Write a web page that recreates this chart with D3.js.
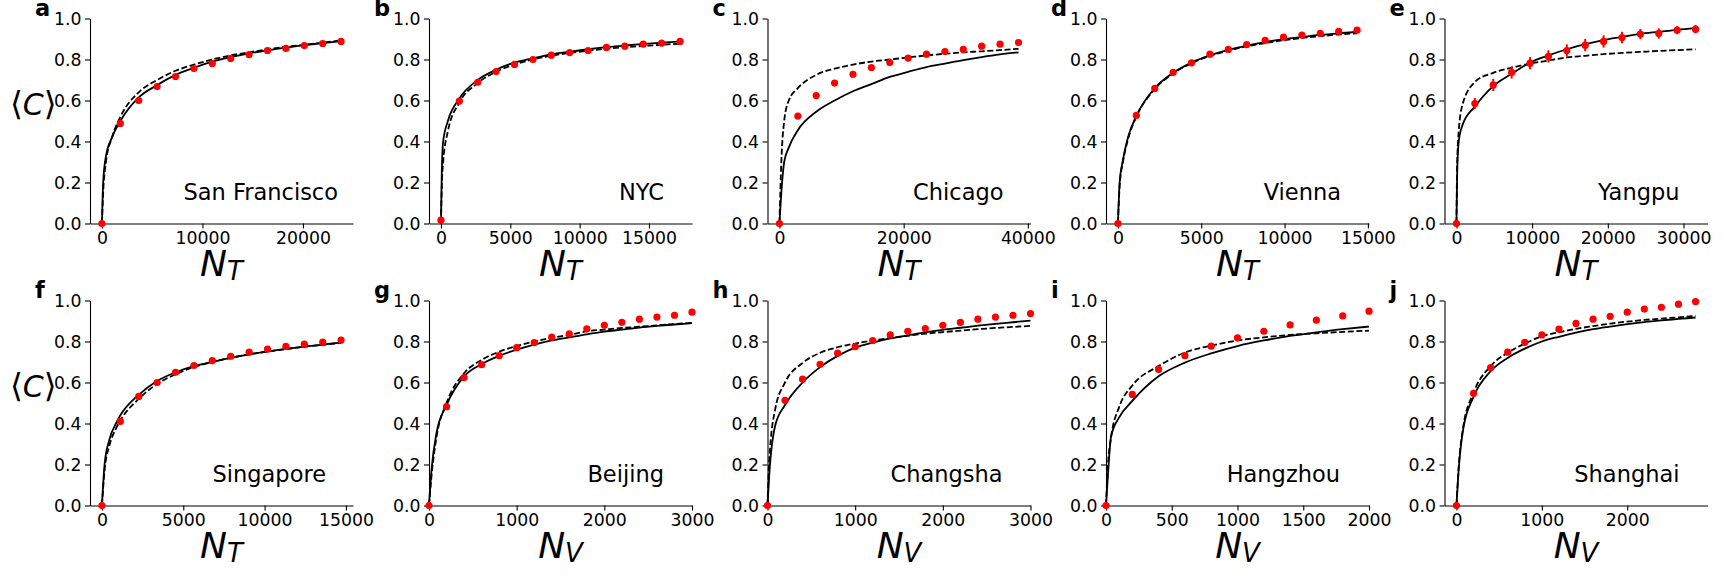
<!DOCTYPE html>
<html>
<head>
<meta charset="utf-8">
<script src="https://cdn.jsdelivr.net/npm/d3@7"></script>
<style>
  body { margin: 0; background: #fff; }
  svg { display: block; font-family: "DejaVu Sans", sans-serif; }
</style>
</head>
<body>
<div id="chart"></div>
<script>
// ---- data ----
const cities = ["San Francisco", "NYC", "Chicago", "Vienna", "Yangpu",
                "Singapore", "Beijing", "Changsha", "Hangzhou", "Shanghai"];
const letters = ["a", "b", "c", "d", "e", "f", "g", "h", "i", "j"];
const xSubscripts = ["T", "T", "T", "T", "T", "T", "V", "V", "V", "V"];
const yTicks = [0, 0.2, 0.4, 0.6, 0.8, 1.0];

// a - San Francisco
const sfPointX = [0, 1830, 3660, 5490, 7320, 9150, 10980, 12810, 14640, 16470, 18300, 20130, 21960, 23790];
const sfPointC = [0, 0.488, 0.600, 0.668, 0.717, 0.756, 0.780, 0.805, 0.824, 0.844, 0.854, 0.868, 0.878, 0.888];
const sfCurveX = [0, 120, 400, 1000, 1830, 3660, 5490, 7320, 9150, 10980, 12810, 14640, 16470, 18300, 20130, 21960, 23790];
const sfSolid  = [0, 0.20, 0.33, 0.42, 0.50, 0.615, 0.675, 0.725, 0.76, 0.79, 0.812, 0.83, 0.845, 0.858, 0.870, 0.880, 0.89];
const sfDashed = [0, 0.15, 0.30, 0.42, 0.52, 0.64, 0.70, 0.745, 0.775, 0.80, 0.82, 0.835, 0.85, 0.862, 0.872, 0.882, 0.893];

// b - NYC
const nycPointX = [0, 1326, 2652, 3978, 5304, 6630, 7956, 9282, 10608, 11934, 13260, 14586, 15912, 17240];
const nycPointC = [0.016, 0.597, 0.689, 0.741, 0.776, 0.800, 0.821, 0.834, 0.844, 0.859, 0.865, 0.875, 0.880, 0.888];
const nycCurveX = [0, 60, 160, 500, 1326, 2652, 3978, 5304, 6630, 7956, 9282, 10608, 11934, 13260, 14586, 15912, 17240];
const nycSolid  = [0, 0.25, 0.40, 0.50, 0.61, 0.70, 0.75, 0.785, 0.806, 0.825, 0.838, 0.85, 0.86, 0.868, 0.876, 0.882, 0.888];
const nycDashed = [0, 0.18, 0.30, 0.45, 0.59, 0.685, 0.74, 0.775, 0.80, 0.818, 0.832, 0.843, 0.853, 0.86, 0.866, 0.872, 0.877];

// c - Chicago
const chiPointX = [0, 2960, 5920, 8880, 11840, 14800, 17760, 20720, 23680, 26640, 29600, 32560, 35520, 38500];
const chiPointC = [0, 0.524, 0.624, 0.685, 0.728, 0.761, 0.785, 0.807, 0.826, 0.839, 0.849, 0.865, 0.875, 0.883];
const chiCurveX = [0, 300, 760, 1500, 2960, 5920, 8880, 11840, 14800, 17760, 20720, 23680, 26640, 29600, 32560, 35520, 38500];
const chiSolid  = [0, 0.15, 0.30, 0.37, 0.455, 0.545, 0.60, 0.645, 0.68, 0.715, 0.74, 0.763, 0.78, 0.797, 0.812, 0.825, 0.835];
const chiDashed = [0, 0.30, 0.50, 0.60, 0.66, 0.725, 0.755, 0.775, 0.79, 0.80, 0.81, 0.82, 0.828, 0.835, 0.84, 0.846, 0.852];

// d - Vienna
const viePointX = [0, 1104, 2208, 3312, 4416, 5520, 6624, 7728, 8832, 9936, 11040, 12144, 13248, 14350];
const viePointC = [0, 0.527, 0.659, 0.737, 0.784, 0.826, 0.849, 0.873, 0.893, 0.909, 0.919, 0.927, 0.937, 0.943];
const vieCurveX = [0, 100, 300, 600, 1104, 2208, 3312, 4416, 5520, 6624, 7728, 8832, 9936, 11040, 12144, 13248, 14350];
const vieSolid  = [0, 0.2, 0.31, 0.42, 0.525, 0.66, 0.735, 0.785, 0.82, 0.847, 0.868, 0.885, 0.899, 0.91, 0.92, 0.928, 0.935];
const vieDashed = [0, 0.18, 0.30, 0.41, 0.52, 0.655, 0.732, 0.782, 0.817, 0.843, 0.864, 0.88, 0.894, 0.905, 0.914, 0.922, 0.928];

// e - Yangpu (with error bars)
const yanPointX = [0, 2430, 4860, 7290, 9720, 12150, 14580, 17010, 19440, 21870, 24300, 26730, 29160, 31590];
const yanPointC = [0, 0.585, 0.676, 0.737, 0.782, 0.815, 0.844, 0.870, 0.888, 0.907, 0.924, 0.927, 0.943, 0.948];
const yanError  = [0, 0.027, 0.03, 0.03, 0.03, 0.03, 0.03, 0.03, 0.03, 0.028, 0.025, 0.025, 0.02, 0.02];
const yanCurveX = [0, 100, 300, 800, 2430, 4860, 7290, 9720, 12150, 14580, 17010, 19440, 21870, 24300, 26730, 29160, 31590];
const yanSolid  = [0, 0.25, 0.40, 0.48, 0.57, 0.67, 0.73, 0.785, 0.82, 0.85, 0.875, 0.895, 0.91, 0.925, 0.935, 0.945, 0.953];
const yanDashed = [0, 0.30, 0.45, 0.58, 0.69, 0.735, 0.76, 0.78, 0.795, 0.81, 0.818, 0.826, 0.832, 0.837, 0.842, 0.846, 0.85];

// f - Singapore
const sinPointX = [0, 1131, 2262, 3393, 4524, 5655, 6786, 7917, 9048, 10179, 11310, 12441, 13572, 14700];
const sinPointC = [0, 0.41, 0.532, 0.60, 0.650, 0.683, 0.707, 0.728, 0.748, 0.763, 0.776, 0.787, 0.797, 0.807];
const sinCurveX = [0, 160, 450, 860, 1131, 2262, 3393, 4524, 5655, 6786, 7917, 9048, 10179, 11310, 12441, 13572, 14700];
const sinSolid  = [0, 0.20, 0.32, 0.40, 0.44, 0.54, 0.607, 0.65, 0.68, 0.70, 0.72, 0.737, 0.752, 0.764, 0.775, 0.785, 0.795];
const sinDashed = [0, 0.17, 0.29, 0.375, 0.415, 0.52, 0.593, 0.64, 0.675, 0.70, 0.72, 0.737, 0.751, 0.763, 0.774, 0.784, 0.793];

// g - Beijing
const beiPointX = [0, 200, 400, 600, 800, 1000, 1200, 1400, 1600, 1800, 2000, 2200, 2400, 2600, 2800, 3000];
const beiPointC = [0, 0.482, 0.624, 0.687, 0.731, 0.770, 0.795, 0.821, 0.837, 0.862, 0.879, 0.894, 0.909, 0.919, 0.928, 0.943];
const beiCurveX = [0, 30, 84, 200, 400, 600, 800, 1000, 1200, 1400, 1600, 1800, 2000, 2200, 2400, 2600, 2800, 3000];
const beiSolid  = [0, 0.18, 0.35, 0.49, 0.63, 0.69, 0.73, 0.76, 0.785, 0.805, 0.82, 0.835, 0.848, 0.858, 0.868, 0.876, 0.883, 0.89];
const beiDashed = [0, 0.15, 0.33, 0.50, 0.645, 0.71, 0.75, 0.778, 0.80, 0.818, 0.832, 0.85, 0.858, 0.866, 0.872, 0.879, 0.885, 0.891];

// h - Changsha
const chaPointX = [0, 200, 400, 600, 800, 1000, 1200, 1400, 1600, 1800, 2000, 2200, 2400, 2600, 2800, 3000];
const chaPointC = [0, 0.513, 0.616, 0.689, 0.743, 0.775, 0.805, 0.832, 0.85, 0.863, 0.879, 0.893, 0.909, 0.919, 0.928, 0.936];
const chaCurveX = [0, 20, 88, 200, 400, 600, 800, 1000, 1200, 1400, 1600, 1800, 2000, 2200, 2400, 2600, 2800, 3000];
const chaSolid  = [0, 0.15, 0.39, 0.49, 0.60, 0.675, 0.73, 0.77, 0.795, 0.815, 0.83, 0.845, 0.857, 0.867, 0.877, 0.886, 0.894, 0.902];
const chaDashed = [0, 0.22, 0.47, 0.60, 0.695, 0.745, 0.772, 0.79, 0.805, 0.817, 0.828, 0.838, 0.846, 0.853, 0.86, 0.866, 0.871, 0.876];

// i - Hangzhou
const hanPointX = [0, 200, 400, 600, 800, 1000, 1200, 1400, 1600, 1800, 2000];
const hanPointC = [0, 0.542, 0.664, 0.731, 0.777, 0.818, 0.850, 0.881, 0.904, 0.925, 0.948];
const hanCurveX = [0, 15, 38, 100, 200, 400, 600, 800, 1000, 1200, 1400, 1600, 1800, 2000];
const hanSolid  = [0, 0.15, 0.335, 0.43, 0.51, 0.63, 0.697, 0.742, 0.778, 0.805, 0.827, 0.845, 0.86, 0.873];
const hanDashed = [0, 0.2, 0.33, 0.48, 0.585, 0.68, 0.746, 0.78, 0.805, 0.82, 0.832, 0.84, 0.847, 0.853];

// j - Shanghai
const shaPointX = [0, 200, 400, 600, 800, 1000, 1200, 1400, 1600, 1800, 2000, 2200, 2400, 2600, 2800];
const shaPointC = [0, 0.547, 0.673, 0.748, 0.796, 0.832, 0.86, 0.888, 0.909, 0.923, 0.943, 0.958, 0.967, 0.982, 0.995];
const shaCurveX = [0, 25, 78, 200, 400, 600, 800, 1000, 1200, 1400, 1600, 1800, 2000, 2200, 2400, 2600, 2800];
const shaSolid  = [0, 0.17, 0.37, 0.53, 0.655, 0.72, 0.765, 0.80, 0.823, 0.843, 0.86, 0.873, 0.885, 0.895, 0.903, 0.91, 0.917];
const shaDashed = [0, 0.18, 0.38, 0.55, 0.68, 0.745, 0.79, 0.825, 0.845, 0.862, 0.875, 0.887, 0.897, 0.905, 0.912, 0.918, 0.925];

const xTickSets = [
    [0, 10000, 20000], [0, 5000, 10000, 15000], [0, 20000, 40000], [0, 5000, 10000, 15000], [0, 10000, 20000, 30000],
    [0, 5000, 10000, 15000], [0, 1000, 2000, 3000], [0, 1000, 2000, 3000], [0, 500, 1000, 1500, 2000], [0, 1000, 2000]
];

// ---- panel table (built from the arrays above) ----
const series = [
    [sfPointX, sfPointC, sfCurveX, sfSolid, sfDashed, null],
    [nycPointX, nycPointC, nycCurveX, nycSolid, nycDashed, null],
    [chiPointX, chiPointC, chiCurveX, chiSolid, chiDashed, null],
    [viePointX, viePointC, vieCurveX, vieSolid, vieDashed, null],
    [yanPointX, yanPointC, yanCurveX, yanSolid, yanDashed, yanError],
    [sinPointX, sinPointC, sinCurveX, sinSolid, sinDashed, null],
    [beiPointX, beiPointC, beiCurveX, beiSolid, beiDashed, null],
    [chaPointX, chaPointC, chaCurveX, chaSolid, chaDashed, null],
    [hanPointX, hanPointC, hanCurveX, hanSolid, hanDashed, null],
    [shaPointX, shaPointC, shaCurveX, shaSolid, shaDashed, null]
];

// x range padded like matplotlib's default margins, except g-i which start at 0
const padded = [true, true, true, true, true, true, false, false, false, true];

// ---- layout ----
const width = 1728, height = 576;
const colLeft = [90, 429, 767.5, 1106, 1444.5];
const rowTop = [18.5, 300.5];
const axW = 263, axH = 205;
const cityRight = [248, 235, 236, 235, 235, 236, 235, 235, 234, 235];

const svg = d3.select("#chart").append("svg")
    .attr("width", width)
    .attr("height", height);

const y = d3.scaleLinear().domain([0, 1]).range([axH, 0]);

series.forEach((s, i) => {
    const [px, pc, cx, solid, dashed, err] = s;
    const left = colLeft[i % 5], top = rowTop[Math.floor(i / 5)];
    const g = svg.append("g").attr("transform", "translate(" + left + "," + top + ")");

    const xMax = d3.max(px);
    const x = d3.scaleLinear()
        .domain(padded[i] ? [-0.05 * xMax, 1.05 * xMax] : [0, xMax])
        .range([0, axW]);

    const yAxis = g.append("g")
        .call(d3.axisLeft(y).tickValues(yTicks).tickFormat(d3.format(".1f"))
            .tickSize(5).tickSizeOuter(0).tickPadding(3.5));
    const xAxis = g.append("g")
        .attr("transform", "translate(0," + axH + ")")
        .call(d3.axisBottom(x).tickValues(xTickSets[i]).tickFormat(d3.format("d"))
            .tickSize(5).tickSizeOuter(0).tickPadding(3));
    [xAxis, yAxis].forEach(a => {
        a.selectAll("path.domain").attr("stroke", "#000").attr("stroke-width", 1.1);
        a.selectAll(".tick line").attr("stroke", "#000").attr("stroke-width", 1.1);
        a.selectAll(".tick text")
            .attr("fill", "#000")
            .style("font-family", "DejaVu Sans")
            .style("font-size", "17.3px");
    });

    const curve = (vals) => cx.map((v, k) => ({ x: v, c: vals[k] }));
    const line = d3.line()
        .x(d => x(d.x))
        .y(d => y(d.c))
        .curve(d3.curveMonotoneX);

    g.append("path")
        .datum(curve(solid))
        .attr("fill", "none")
        .attr("stroke", "#000")
        .attr("stroke-width", 1.8)
        .attr("d", line);

    g.append("path")
        .datum(curve(dashed))
        .attr("fill", "none")
        .attr("stroke", "#000")
        .attr("stroke-width", 1.8)
        .attr("stroke-dasharray", "6,2.6")
        .attr("d", line);

    const pts = px.map((v, k) => ({ x: v, c: pc[k], e: err ? err[k] : 0 }));

    if (err) {
        g.selectAll(".err")
            .data(pts.filter(d => d.e > 0))
            .enter()
            .append("line")
            .attr("class", "err")
            .attr("x1", d => x(d.x))
            .attr("x2", d => x(d.x))
            .attr("y1", d => y(d.c - d.e))
            .attr("y2", d => y(d.c + d.e))
            .attr("stroke", "#ff0000")
            .attr("stroke-width", 2);
    }

    g.selectAll(".dot")
        .data(pts)
        .enter()
        .append("circle")
        .attr("class", "dot")
        .attr("cx", d => x(d.x))
        .attr("cy", d => y(d.c))
        .attr("r", 3.6)
        .attr("fill", "#ff0000");

    // city name
    g.append("text")
        .attr("x", cityRight[i])
        .attr("y", 181.5)
        .attr("text-anchor", "end")
        .style("font-size", "22.5px")
        .attr("fill", "#000")
        .text(cities[i]);

    // panel letter
    g.append("text")
        .attr("x", -55)
        .attr("y", -2.5)
        .style("font-size", "22.5px")
        .style("font-weight", "bold")
        .attr("fill", "#000")
        .text(letters[i]);

    // x label N_T / N_V
    const xl = g.append("text")
        .attr("x", axW / 2)
        .attr("y", axH + 52)
        .attr("text-anchor", "middle")
        .attr("fill", "#000")
        .style("font-style", "italic");
    xl.append("tspan").style("font-size", "36px").text("N");
    xl.append("tspan").style("font-size", "26px").attr("dy", 4).text(xSubscripts[i]);

    // y label on first column
    if (i % 5 === 0) {
        const yl = g.append("text")
            .attr("x", -56.7)
            .attr("y", 96.5)
            .attr("text-anchor", "middle")
            .attr("fill", "#000")
            .style("font-size", "30px");
        yl.append("tspan").style("font-size", "33px").text("\u27E8");
        yl.append("tspan").style("font-style", "italic").text("C");
        yl.append("tspan").style("font-size", "33px").text("\u27E9");
    }
});
</script>
</body>
</html>
